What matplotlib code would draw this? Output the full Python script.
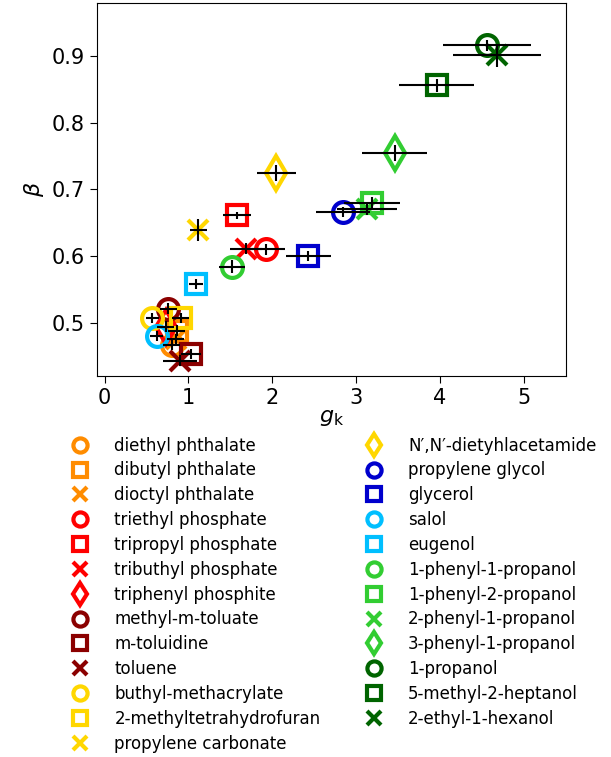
import matplotlib
matplotlib.use("Agg")
import matplotlib.pyplot as plt

names = ["diethyl phthalate", "dibutyl phthalate", "dioctyl phthalate",
         "triethyl phosphate", "tripropyl phosphate", "tributhyl phosphate",
         "triphenyl phosphite", "methyl-m-toluate", "m-toluidine", "toluene",
         "buthyl-methacrylate", "2-methyltetrahydrofuran", "propylene carbonate",
         "N\u2032,N\u2032-dietyhlacetamide", "propylene glycol", "glycerol", "salol",
         "eugenol", "1-phenyl-1-propanol", "1-phenyl-2-propanol",
         "2-phenyl-1-propanol", "3-phenyl-1-propanol", "1-propanol",
         "5-methyl-2-heptanol", "2-ethyl-1-hexanol"]
colors = ["darkorange", "darkorange", "darkorange",
          "red", "red", "red", "red",
          "darkred", "darkred", "darkred",
          "gold", "gold", "gold", "gold",
          "mediumblue", "mediumblue",
          "deepskyblue", "deepskyblue",
          "limegreen", "limegreen", "limegreen", "limegreen",
          "darkgreen", "darkgreen", "darkgreen"]
markers = ["o", "s", "x", "o", "s", "x", "d", "o", "s", "x", "o", "s", "x", "d",
           "o", "s", "o", "s", "o", "s", "x", "d", "o", "s", "x"]
gk = [0.80, 0.86, 0.85, 1.93, 1.58, 1.69, 0.73, 0.76, 1.03, 0.90, 0.57, 0.91, 1.12,
      2.05, 2.84, 2.43, 0.62, 1.09, 1.52, 3.19, 3.13, 3.46, 4.56, 3.96, 4.68]
gk_err = [0.10, 0.10, 0.10, 0.22, 0.17, 0.19, 0.10, 0.10, 0.12, 0.20, 0.08, 0.10, 0.10,
          0.23, 0.32, 0.27, 0.08, 0.08, 0.16, 0.33, 0.36, 0.39, 0.52, 0.45, 0.53]
beta = [0.467, 0.488, 0.475, 0.610, 0.661, 0.611, 0.494, 0.521, 0.453, 0.443, 0.507,
        0.507, 0.639, 0.725, 0.666, 0.600, 0.480, 0.558, 0.584, 0.680, 0.670, 0.754,
        0.916, 0.856, 0.901]
beta_err = [0.008, 0.008, 0.008, 0.008, 0.005, 0.008, 0.008, 0.008, 0.008, 0.008, 0.008,
            0.008, 0.017, 0.012, 0.008, 0.008, 0.008, 0.008, 0.010, 0.008, 0.008, 0.012,
            0.008, 0.010, 0.017]

fig = plt.figure(figsize=(6.11, 7.57), dpi=100)
ax = fig.add_axes([0.158, 0.5037, 0.768, 0.4927])

for n, c, m, x, y in zip(names, colors, markers, gk, beta):
    ms = 17 if m == "d" else 15
    ax.plot([x], [y], linestyle="none", marker=m, markersize=ms, markerfacecolor="none",
            markeredgecolor=c, color=c, markeredgewidth=3, label=n, zorder=2)
for x, xe, y, ye in zip(gk, gk_err, beta, beta_err):
    ax.errorbar([x], [y], xerr=[xe], yerr=[ye], fmt="none", ecolor="black",
                elinewidth=1.5, capsize=0, zorder=3)

ax.set_xlim(-0.095, 5.50)
ax.set_ylim(0.4205, 0.98)
ax.set_xticks([0, 1, 2, 3, 4, 5])
ax.set_yticks([0.5, 0.6, 0.7, 0.8, 0.9])
ax.tick_params(labelsize=15, length=5)
ax.set_xlabel(r"$g_\mathrm{k}$", fontsize=16, labelpad=0)
ax.set_ylabel(r"$\beta$", fontsize=16, labelpad=4)

handles, labels = ax.get_legend_handles_labels()
fig.legend(handles, labels, loc="upper left", bbox_to_anchor=(0.093, 0.432), ncol=2,
           frameon=False, fontsize=12, markerscale=0.68, columnspacing=2.2,
           handletextpad=1.05, labelspacing=0.41, borderaxespad=0.0)

fig.savefig("out.png", dpi=100)
